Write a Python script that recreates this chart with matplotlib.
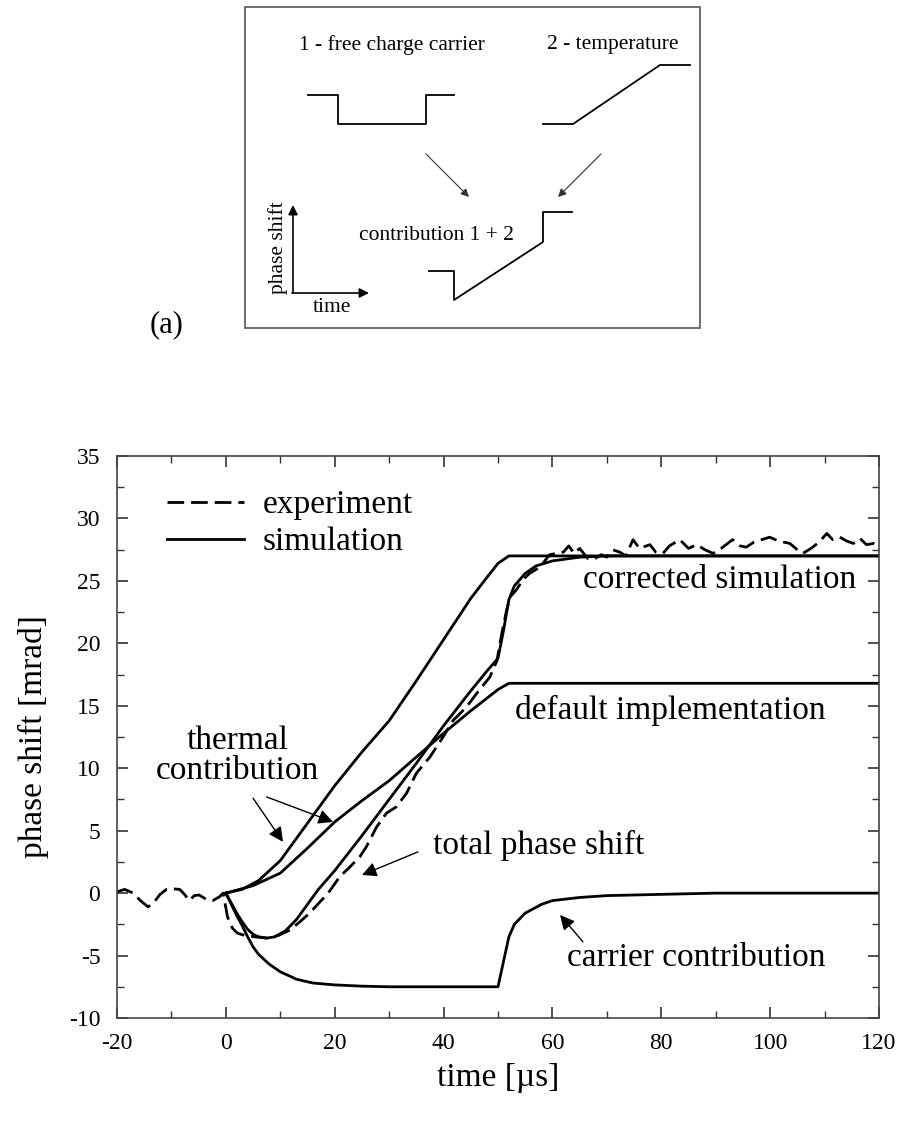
import matplotlib
matplotlib.use("Agg")
import matplotlib.pyplot as plt
from matplotlib.patches import Rectangle

plt.rcParams['font.family'] = ['Liberation Serif', 'DejaVu Serif']
plt.rcParams['axes.unicode_minus'] = False

# measured experiment (dashed)
exp_t = [-20, -18.6, -17.0, -15.8, -14.3, -13.3, -12.1, -10.9, -10.0, -8.5, -7.6, -6.7,
         -5.8, -4.9, -3.6, -2.4, -1.2, -0.5, 0.3, 1.2, 2.1, 3.5, 5.3, 7.5, 9.6, 11.8,
         13.6, 15.4, 17.3, 18.8, 20.9, 22.8, 24.6, 25.8, 27.7, 29.5, 31.3, 33.2, 35.0,
         37.5, 39.9, 41.7, 44.2, 46.1, 48.5, 49.8, 50.7, 51.6, 52.2, 53.4, 54.6, 55.8,
         57.7, 59.5, 62.0, 63.0, 64.0, 65.0, 66.5, 67.5, 69.0, 70.0, 71.0, 72.4, 73.5,
         74.8, 76.0, 77.9, 79.0, 80.3, 81.5, 83.4, 85.0, 86.5, 88.0, 89.5, 91.0, 93.1,
         94.5, 95.6, 97.0, 99.9, 101.5, 103.6, 105.0, 106.0, 107.5, 109.0, 110.4, 111.5,
         112.8, 114.0, 115.3, 116.5, 117.7, 119.0, 120]
exp_y = [0.1, 0.3, 0.0, -0.56, -1.1, -0.8, -0.1, 0.3, 0.35, 0.3, -0.1, -0.6,
         -0.2, -0.15, -0.5, -0.6, -0.3, 0.0, -1.9, -2.8, -3.2, -3.4, -3.5, -3.6, -3.4, -2.95,
         -2.3, -1.6, -0.7, 0.0, 1.3, 2.1, 2.9, 3.7, 5.3, 6.4, 6.9, 8.0, 9.6,
         10.9, 12.5, 13.8, 14.9, 16.0, 17.3, 18.6, 20.8, 22.7, 23.7, 24.3, 25.1, 25.6,
         26.1, 27.1, 27.3, 27.8, 27.2, 27.6, 26.8, 26.7, 27.1, 26.9, 27.5, 27.3, 27.0,
         28.3, 27.6, 27.9, 27.3, 27.2, 27.8, 28.3, 27.6, 27.9, 27.5, 27.2, 27.6, 28.3,
         27.8, 27.7, 28.1, 28.5, 28.2, 28.0, 27.5, 27.2, 27.6, 28.1, 28.8, 28.3,
         28.5, 28.2, 28.0, 28.4, 27.9, 28.0, 27.7]

# thermal contribution, corrected
th_corr_t = [0, 3, 6, 10, 15, 20, 25, 30, 35, 40, 45, 48, 50, 52, 120]
th_corr_y = [0, 0.3, 1.0, 2.6, 5.6, 8.6, 11.3, 13.8, 17.0, 20.3, 23.6, 25.3, 26.4, 27.0, 27.0]

# thermal contribution, default implementation
th_def_t = [0, 5, 10, 15, 20, 25, 30, 35, 40, 45, 50, 52, 120]
th_def_y = [0, 0.6, 1.6, 3.6, 5.7, 7.4, 9.0, 10.9, 12.8, 14.6, 16.3, 16.8, 16.8]

# total phase shift, corrected simulation
tot_t = [0, 1, 2, 3, 4, 5, 6, 7.5, 9, 11, 13, 15, 17, 20, 25, 30, 35, 38, 40, 45, 48,
         50, 51, 52, 53, 55, 57, 60, 65, 70, 120]
tot_y = [0, -0.8, -1.6, -2.3, -2.9, -3.3, -3.5, -3.6, -3.5, -3.0, -2.1, -0.9, 0.3, 1.8,
         4.6, 7.5, 10.4, 12.2, 13.4, 16.2, 17.8, 18.8, 21.0, 23.5, 24.6, 25.6, 26.2, 26.6,
         26.9, 27.0, 27.0]

# carrier contribution
car_t = [0, 1, 2, 3, 4, 5, 6, 8, 10, 13, 16, 20, 25, 30, 50, 51, 52, 53, 55, 58, 60,
         65, 70, 80, 90, 120]
car_y = [0, -0.9, -1.8, -2.6, -3.5, -4.3, -4.9, -5.7, -6.3, -6.9, -7.2, -7.35, -7.45,
         -7.5, -7.5, -5.5, -3.5, -2.5, -1.6, -0.9, -0.6, -0.35, -0.2, -0.1, 0.0, 0.0]

xticks = [-20, 0, 20, 40, 60, 80, 100, 120]
yticks = [-10, -5, 0, 5, 10, 15, 20, 25, 30, 35]

# schematic (a), figure pixel coordinates
carrier_x = [308, 338, 338, 426, 426, 454]
carrier_y = [95, 95, 124, 124, 95, 95]
temp_x = [543, 573, 660, 690]
temp_y = [124, 124, 65, 65]
sum_x = [429, 454, 454, 543, 543, 572]
sum_y = [271, 271, 300, 242, 212, 212]

fig = plt.figure(figsize=(9.01, 11.48), dpi=100)
ax = fig.add_axes([117 / 901, (1148 - 1018) / 1148, 762 / 901, 562 / 1148])

lw = 2.0
ax.plot(exp_t, exp_y, color='black', lw=lw, dashes=(6, 2.5), label='experiment')
ax.plot(th_corr_t, th_corr_y, color='black', lw=lw, label='simulation')
ax.plot(th_def_t, th_def_y, color='black', lw=lw)
ax.plot(tot_t, tot_y, color='black', lw=lw)
ax.plot(car_t, car_y, color='black', lw=lw)

ax.set_xlim(-20, 120)
ax.set_ylim(-10, 35)
ax.set_xticks(xticks)
ax.set_yticks(yticks)
ax.set_xticks(range(-10, 120, 20), minor=True)
ax.set_yticks([v + 2.5 for v in yticks[:-1]], minor=True)
ax.tick_params(which='both', direction='in', top=True, right=True, labelsize=17,
               color='#333333')
ax.tick_params(which='major', length=8, width=1.2)
ax.tick_params(which='minor', length=5, width=1.0)
ax.tick_params(axis='x', pad=11)
ax.tick_params(axis='y', pad=12)
for s in ax.spines.values():
    s.set_color('#444444')
    s.set_linewidth(1.2)

ax.set_xlabel('time [µs]', fontsize=24, labelpad=6)
ax.set_ylabel('phase shift [mrad]', fontsize=24, labelpad=14)

ax.legend(loc='upper left', bbox_to_anchor=(0.066, 0.94), frameon=False, fontsize=24,
          handlelength=2.3, handletextpad=0.55, labelspacing=0.2, borderpad=0,
          borderaxespad=0)

fs = 24
ap = dict(arrowstyle='-|>', color='black', lw=1.0, mutation_scale=22,
          shrinkA=0, shrinkB=0)
ax.text(2.2, 11.0, 'thermal\ncontribution', fontsize=fs, ha='center', va='center',
        linespacing=1.0)
ax.annotate('', xy=(10.5, 4.1), xytext=(5.0, 7.6), arrowprops=ap)
ax.annotate('', xy=(19.7, 5.7), xytext=(7.5, 7.7), arrowprops=ap)
ax.text(38.0, 3.8, 'total phase shift', fontsize=fs, ha='left', va='center')
ax.annotate('', xy=(25.0, 1.45), xytext=(35.3, 3.3), arrowprops=ap)
ax.text(65.6, 25.1, 'corrected simulation', fontsize=fs, ha='left', va='center')
ax.text(53.1, 14.65, 'default implementation', fontsize=fs, ha='left', va='center')
ax.text(62.6, -5.2, 'carrier contribution', fontsize=fs, ha='left', va='center')
ax.annotate('', xy=(61.4, -1.75), xytext=(65.6, -3.9), arrowprops=ap)

# schematic panel
sk = fig.add_axes([0, 0, 1, 1], zorder=-1)
sk.set_xlim(0, 901)
sk.set_ylim(1148, 0)
sk.axis('off')
sk.add_patch(Rectangle((245, 7), 455, 321, fill=False, edgecolor='#555555', lw=1.2))
sk.plot(carrier_x, carrier_y, color='black', lw=1.3)
sk.plot(temp_x, temp_y, color='black', lw=1.3)
sk.plot(sum_x, sum_y, color='black', lw=1.3)
sap = dict(arrowstyle='-|>', color='#333333', lw=0.8, mutation_scale=12,
           shrinkA=0, shrinkB=0)
sk.annotate('', xy=(469, 197), xytext=(426, 154), arrowprops=sap)
sk.annotate('', xy=(558, 197), xytext=(601, 154), arrowprops=sap)
aap = dict(arrowstyle='-|>', color='black', lw=1.2, mutation_scale=14,
           shrinkA=0, shrinkB=0)
sk.annotate('', xy=(293, 205), xytext=(293, 293), arrowprops=aap)
sk.annotate('', xy=(369, 293), xytext=(292, 293), arrowprops=aap)
sfs = 15.5
sk.text(392, 45, '1 - free charge carrier', fontsize=sfs, ha='center', va='center')
sk.text(547, 45, '2 - temperature', fontsize=sfs, ha='left', va='center')
sk.text(436, 235, 'contribution 1 + 2', fontsize=sfs, ha='center', va='center')
sk.text(278, 248, 'phase shift', fontsize=sfs, ha='center', va='center', rotation=90)
sk.text(332, 308, 'time', fontsize=sfs, ha='center', va='center')
sk.text(167, 325, '(a)', fontsize=22, ha='center', va='center')

fig.savefig('out.png', dpi=100)
